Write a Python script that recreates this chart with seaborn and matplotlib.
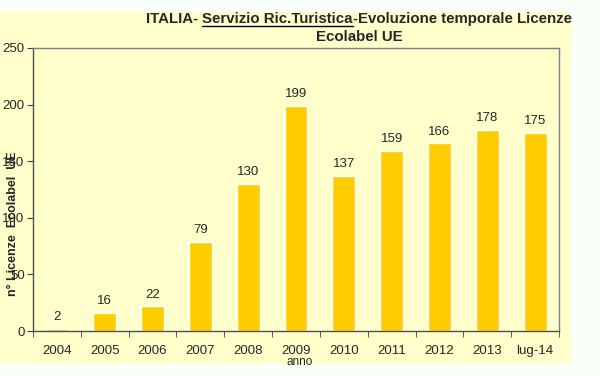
import matplotlib
matplotlib.use("Agg")
import matplotlib.pyplot as plt
import seaborn as sns
import pandas as pd
import numpy as np
from matplotlib.lines import Line2D
from matplotlib.patches import Rectangle

# Data
anni = ["2004", "2005", "2006", "2007", "2008", "2009", "2010", "2011", "2012", "2013", "lug-14"]
licenze = [2, 16, 22, 79, 130, 199, 137, 159, 166, 178, 175]

df = pd.DataFrame({"anno": anni, "licenze": licenze})

sns.set_style("white")
plt.rcParams['font.family'] = ['Liberation Sans', 'DejaVu Sans']

bg = "#FFFFCC"
bar_color = "#FFCC00"

fig = plt.figure(figsize=(6, 3.76), dpi=100, facecolor="#F8FFF8")
# yellow chart area behind everything
fig.patches.append(Rectangle((0, 12 / 376), 571 / 600, (364 - 12) / 376,
                             transform=fig.transFigure, facecolor=bg,
                             edgecolor="none", zorder=-10))

ax = fig.add_axes([33 / 600, 1 - 331 / 376, (559 - 33) / 600, (331 - 48) / 376])
ax.set_facecolor(bg)

sns.barplot(data=df, x="anno", y="licenze", color=bar_color, width=0.48,
            saturation=1, ax=ax)
ax.bar_label(ax.containers[0], fontsize=9.5, padding=4)

ax.set_ylim(0, 250)
ax.set_xlim(-0.5, len(anni) - 0.5)
ax.set_yticks(range(0, 251, 50))
ax.set_xticks(np.arange(-0.5, len(anni), 1), minor=True)
ax.tick_params(axis="x", which="major", length=0, labelsize=9.5, pad=10)
ax.tick_params(axis="x", which="minor", length=4, direction="out", color="#404040", bottom=True)
ax.tick_params(axis="y", length=4, direction="out", labelsize=9.5, color="#404040", left=True, pad=2)

for s in ["left", "bottom"]:
    ax.spines[s].set_color("#505050")
for s in ["top", "right"]:
    ax.spines[s].set_color("#808080")
for s in ax.spines.values():
    s.set_linewidth(1)

ax.set_xlabel("")
ax.set_ylabel("")
fig.text(300 / 600, 1 - 362 / 376, "anno", ha="center", va="center", fontsize=8.5)
fig.text(13 / 600, 1 - 224 / 376, "n° Licenze  Ecolabel  UE", rotation=90,
         ha="center", va="center", fontsize=9, fontweight="bold")

# title with underlined middle part
parts = ["ITALIA- ", "Servizio Ric.Turistica", "-Evoluzione temporale Licenze"]
ty = 1 - 19 / 376
texts = [fig.text(0, ty, p, ha="left", va="center", fontsize=10.8, fontweight="bold")
         for p in parts]
fig.canvas.draw()
r = fig.canvas.get_renderer()
widths = [t.get_window_extent(r).width for t in texts]
x = 359 - sum(widths) / 2
for t, w in zip(texts, widths):
    t.set_x(x / 600)
    x += w
x0 = texts[1].get_position()[0] * 600
uy = (376 - 19 - 7) / 376
fig.add_artist(Line2D([x0 / 600, (x0 + widths[1]) / 600], [uy, uy],
                      transform=fig.transFigure, color="black", lw=1))
fig.text(359 / 600, 1 - 37 / 376, "Ecolabel UE", ha="center", va="center",
         fontsize=10.8, fontweight="bold")

fig.savefig("out.png", dpi=100, facecolor=fig.get_facecolor())
